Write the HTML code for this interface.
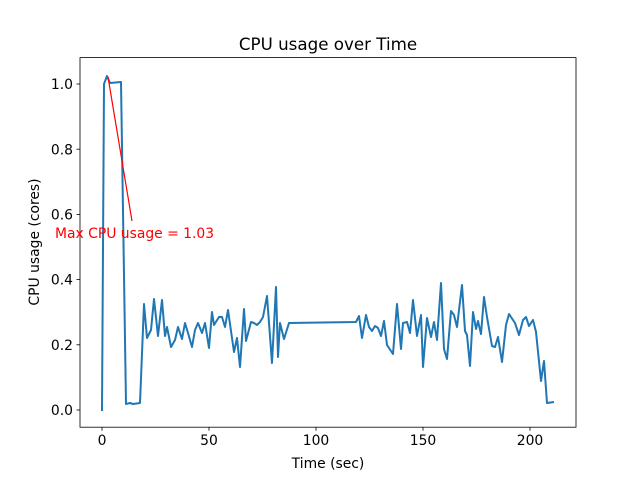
<!DOCTYPE html>
<html><head><style>body{margin:0;background:#fff}svg{display:block}text{font-family:"DejaVu Sans","Liberation Sans",sans-serif}</style></head><body>
<svg width="640" height="480" viewBox="0 0 640 480">
<rect x="80" y="57.6" width="496" height="369.6" fill="none" stroke="#000" stroke-width="0.8"/>
<g stroke="#000" stroke-width="0.8">
<line x1="102" y1="427.2" x2="102" y2="430.7"/><line x1="209" y1="427.2" x2="209" y2="430.7"/><line x1="316" y1="427.2" x2="316" y2="430.7"/><line x1="423" y1="427.2" x2="423" y2="430.7"/><line x1="530" y1="427.2" x2="530" y2="430.7"/>
<line x1="76.5" y1="410" x2="80" y2="410"/><line x1="76.5" y1="344.8" x2="80" y2="344.8"/><line x1="76.5" y1="279.6" x2="80" y2="279.6"/><line x1="76.5" y1="214.4" x2="80" y2="214.4"/><line x1="76.5" y1="149.2" x2="80" y2="149.2"/><line x1="76.5" y1="84" x2="80" y2="84"/>
</g>
<g font-size="13.9" text-anchor="middle">
<text x="102" y="445">0</text><text x="209" y="445">50</text><text x="316" y="445">100</text><text x="423" y="445">150</text><text x="530" y="445">200</text>
<text x="328" y="468">Time (sec)</text>
</g>
<g font-size="13.9" text-anchor="end">
<text x="73" y="415">0.0</text><text x="73" y="350">0.2</text><text x="73" y="284.7">0.4</text><text x="73" y="219.5">0.6</text><text x="73" y="154.3">0.8</text><text x="73" y="89">1.0</text>
</g>
<text transform="translate(39,242) rotate(-90)" font-size="13.9" text-anchor="middle">CPU usage (cores)</text>
<text x="328" y="50" font-size="16.7" text-anchor="middle">CPU usage over Time</text>
<polyline fill="none" stroke="#1f77b4" stroke-width="2" stroke-linejoin="round" points="102,411 104,84 107,76 110,83 121,82 126,404 130,403 133,404 140,403 144,304 147,338 151,330 154,299 158,336 162,300 165,336 167,327 171,347 175,340 178,327 182,339 185,323 188,333 192,347 195,330 198,323 202,333 205,323 209,348 212,312 214,325 219,317 222,317 225,327 228,310 234,352 237,338 240,367 244,309 246,341 251,322 254,323 257,325 260,322 263,317 267,296 272,363 276,287 278,357 280,323 284,339 289,323 356,322 359,316 362,338 366,315 369,327 372,331 375,326 378,328 381,336 384,321 387,345 393,354 397,304 401,349 403,323 407,322 410,333 413,300 417,336 421,315 423,367 427,318 431,337 434,322 437,340 441,283 444,349 447,359 451,311 454,315 457,327 462,285 465,331 467,335 470,366 473,312 476,329 478,321 481,334 484,297 487,317 492,346 495,347 498,337 502,362 506,325 509,314 515,323 519,335 523,320 526,317 529,326 533,320 536,332 541,381 544,361 547,403 554,402"/>
<line x1="108" y1="77" x2="132" y2="221" stroke="#f00" stroke-width="1.2"/>
<text x="55" y="238" font-size="13.9" fill="#f00">Max CPU usage = 1.03</text>
</svg>
</body></html>
